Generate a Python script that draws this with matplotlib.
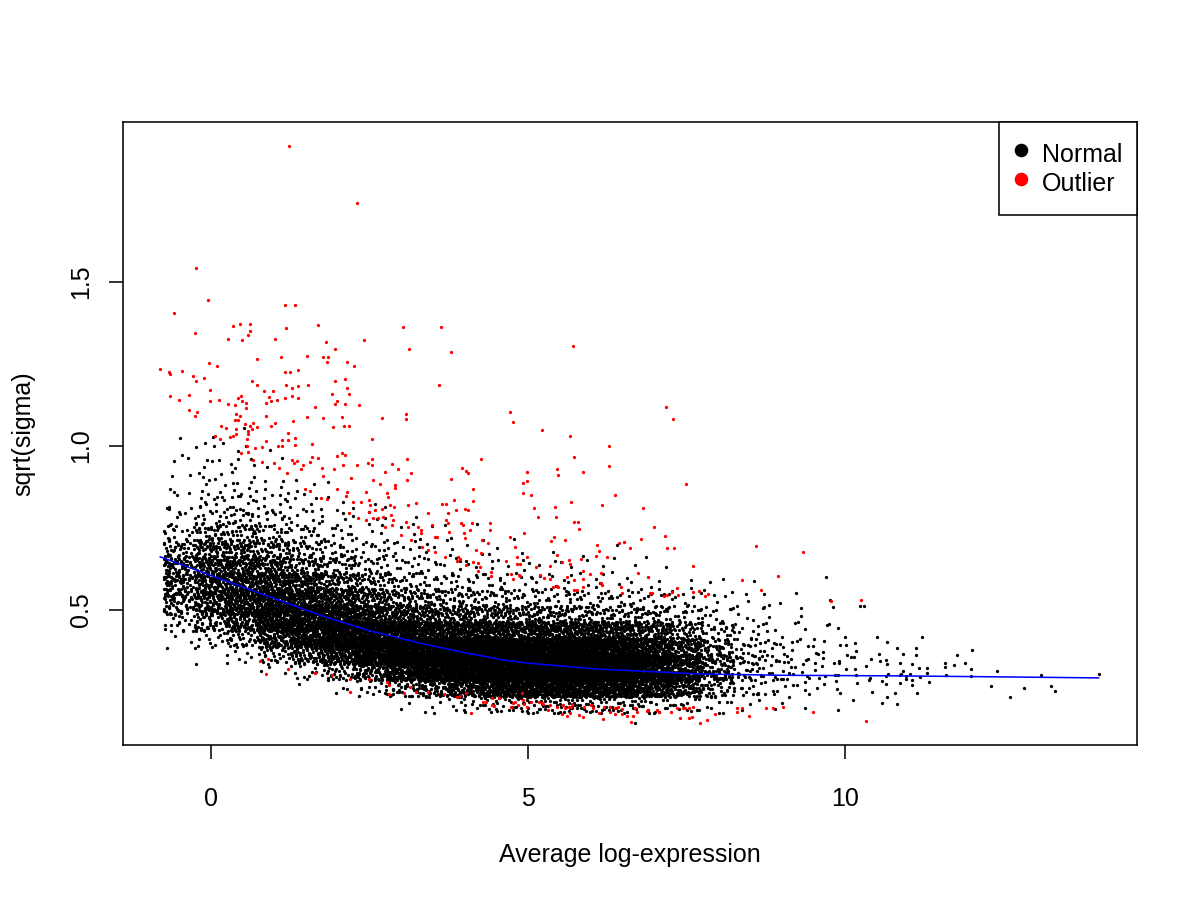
import numpy as np
import matplotlib
matplotlib.use('Agg')
import matplotlib.pyplot as plt
from matplotlib.lines import Line2D

plt.rcParams['font.family'] = ['Liberation Sans', 'DejaVu Sans']

# fitted trend (blue line)
trend_x = [-0.8, 0.2, 1.0, 1.8, 2.5, 3.3, 4.0, 4.6, 5.0, 6.1, 7.7, 9.0, 10.9, 12.5, 14.0]
trend_y = [0.662, 0.591, 0.535, 0.479, 0.437, 0.399, 0.370, 0.348, 0.338, 0.320,
           0.305, 0.301, 0.299, 0.296, 0.293]

# dense "Normal" cloud: estimated number of genes per (x, y) cell
col_edges = [-0.75, -0.5, 0.0, 0.5, 1.0, 1.5, 2.0, 2.5, 3.0, 3.5, 4.0, 4.5,
             5.0, 5.5, 6.0, 6.5, 7.0, 7.5, 8.0, 8.5, 9.0, 9.5, 10.0, 10.5]
row_edges = [0.15, 0.20, 0.25, 0.30, 0.35, 0.40, 0.45, 0.50, 0.55, 0.60,
             0.65, 0.70, 0.75, 0.80, 0.85, 0.90, 0.95, 1.00, 1.05, 1.10]
normal_counts = [
    [0, 0, 0, 0, 0, 1, 6, 14, 18, 16, 10, 4, 2, 1, 0, 0, 0, 0, 0],
    [0, 0, 0, 0, 2, 10, 40, 85, 100, 100, 75, 35, 14, 8, 5, 4, 3, 2, 0],
    [0, 0, 0, 0, 3, 25, 80, 130, 130, 110, 75, 45, 25, 16, 10, 7, 5, 3, 0],
    [0, 0, 0, 2, 15, 70, 150, 170, 140, 95, 55, 30, 16, 10, 6, 4, 2, 0, 0],
    [0, 0, 0, 8, 60, 170, 200, 160, 110, 65, 38, 22, 12, 7, 4, 2, 0, 0, 0],
    [0, 0, 2, 25, 130, 220, 200, 130, 80, 45, 26, 14, 8, 4, 2, 0, 0, 0, 0],
    [0, 0, 8, 70, 210, 240, 170, 100, 55, 30, 16, 9, 5, 2, 0, 0, 0, 0, 0],
    [0, 2, 30, 150, 270, 230, 130, 65, 35, 18, 10, 6, 3, 0, 0, 0, 0, 0, 0],
    [0, 5, 70, 240, 300, 210, 100, 45, 22, 12, 7, 4, 2, 0, 0, 0, 0, 0, 0],
    [0, 12, 130, 320, 320, 190, 85, 38, 18, 9, 5, 3, 0, 0, 0, 0, 0, 0, 0],
    [0, 24, 200, 370, 330, 180, 75, 32, 15, 7, 3, 2, 0, 0, 0, 0, 0, 0, 0],
    [0, 36, 250, 400, 330, 175, 62, 24, 10, 5, 3, 1, 0, 0, 0, 0, 0, 0, 0],
    [0, 44, 270, 410, 320, 165, 55, 22, 9, 4, 2, 0, 0, 0, 0, 0, 0, 0, 0],
    [1, 48, 270, 400, 300, 155, 50, 20, 8, 3, 1, 0, 0, 0, 0, 0, 0, 0, 0],
    [1, 44, 250, 360, 270, 140, 46, 18, 7, 3, 1, 0, 0, 0, 0, 0, 0, 0, 0],
    [0, 36, 210, 300, 220, 115, 40, 15, 6, 2, 0, 0, 0, 0, 0, 0, 0, 0, 0],
    [0, 26, 140, 190, 140, 70, 28, 11, 4, 1, 0, 0, 0, 0, 0, 0, 0, 0, 0],
    [0, 15, 70, 95, 70, 36, 16, 7, 3, 1, 0, 0, 0, 0, 0, 0, 0, 0, 0],
    [0, 7, 25, 32, 26, 14, 8, 4, 2, 0, 0, 0, 0, 0, 0, 0, 0, 0, 0],
    [0, 4, 14, 18, 14, 8, 5, 2, 1, 0, 0, 0, 0, 0, 0, 0, 0, 0, 0],
    [0, 2, 8, 10, 8, 5, 3, 1, 0, 0, 0, 0, 0, 0, 0, 0, 0, 0, 0],
    [0, 1, 6, 8, 6, 4, 2, 1, 1, 0, 0, 0, 0, 0, 0, 0, 0, 0, 0],
    [0, 1, 5, 7, 5, 3, 1, 1, 0, 0, 0, 0, 0, 0, 0, 0, 0, 0, 0],
]

# sparse high-expression "Normal" genes, read one by one
tail_x = [10.56, 10.59, 10.59, 10.64, 10.65, 10.66, 10.66, 10.79, 10.82, 10.82,
          10.86, 10.87, 10.87, 10.89, 10.92, 10.92, 10.96, 10.97, 11.03, 11.05,
          11.06, 11.06, 11.12, 11.12, 11.14, 11.16, 11.19, 11.22, 11.29, 11.29,
          11.32, 11.58, 11.58, 11.59, 11.72, 11.77, 11.90, 11.98, 11.99, 12.01,
          12.31, 12.39, 12.61, 12.83, 13.09, 13.25, 13.32, 14.01]
tail_y = [0.343, 0.285, 0.216, 0.298, 0.274, 0.235, 0.334, 0.248, 0.383, 0.212,
          0.277, 0.337, 0.301, 0.305, 0.367, 0.313, 0.289, 0.299, 0.306, 0.286,
          0.334, 0.270, 0.383, 0.362, 0.248, 0.323, 0.295, 0.417, 0.322, 0.307,
          0.280, 0.339, 0.326, 0.303, 0.332, 0.362, 0.337, 0.319, 0.298, 0.379,
          0.269, 0.313, 0.234, 0.261, 0.301, 0.268, 0.252, 0.305]

# "Outlier" genes (red)
outlier_x = [
    1.235, 2.31, -0.236, -0.04, -0.59, 1.17, 1.33, 0.34, 0.45, 0.62, -0.25, 0.62, 0.59, 0.27,
    0.49, 1.19, 1.01, 1.69, 1.82, 1.96, 2.42, 3.03, 3.63, 3.13, 3.79, 1.52, 1.77, 1.85, 1.83,
    2.15, 2.26, 1.11, 0.73, -0.03, 0.10, -0.80, -0.67, -0.64, -0.45, -0.29, -0.23, -0.11, 1.16,
    1.24, 1.38, 0.65, 0.72, 1.19, 1.27, 1.38, 1.53, 1.96, 2.11, 2.15, 2.17, 1.91, 1.98, 1.96,
    2.11, 2.33, 3.59, -0.01, -0.64, -0.34, -0.50, -0.01, 0.12, 0.27, 0.38, 0.43, 0.47, 0.55,
    0.55, 0.49, 0.84, 0.98, 0.91, 0.94, 0.86, 1.04, 1.17, 1.28, 1.37, 1.64, -0.34, -0.22, -0.25,
    0.39, 0.45, 0.38, 0.43, 0.86, 1.52, 1.77, 2.06, 2.70, 3.08, 3.08, 4.72, 4.77, 0.15, 0.24,
    0.40, 0.54, 0.62, 0.67, 0.72, 0.65, 0.58, 0.40, 0.58, 0.95, 1.01, 1.30, 1.22, 1.33, 2.09,
    2.17, 1.92, 2.54, 0.07, 0.14, 0.30, 0.34, 0.57, 0.87, 1.12, 1.22,
    0.57, 0.58, 0.48, 0.69, 0.81, 1.06, 1.12, 1.32, 1.59, 0.66, 0.81, 1.00, 1.08, 1.20, 1.27,
    1.31, 1.35, 1.42, 1.45, 1.56, 1.60, 1.69, 1.77, 1.75, 1.94, 1.99, 2.06, 2.12, 2.08, 2.21,
    2.31, 2.48, 2.54, 2.54, 2.56, 2.66, 2.86, 2.95, 3.09, 3.15, 3.09, 2.74, 2.91, 2.90, 2.77,
    2.79, 2.45, 2.37, 2.50, 2.51, 2.58, 2.49, 2.70, 2.82, 2.88, 3.10, 3.24, 2.24, 2.13, 2.15,
    1.98, 1.49, 1.56, 1.74, 1.83, 2.18, 2.32, 2.45, 2.56, 2.63, 2.71, 2.84, 2.87, 2.74, 2.86,
    3.08, 3.11, 2.99, 3.16, 3.26, 3.32, 3.32, 3.42, 3.49, 3.53, 3.57, 3.33, 3.42, 3.54, 3.69,
    3.65, 3.70, 3.74, 3.84, 3.86, 3.70, 3.74, 3.75, 3.79, 3.96, 4.03, 4.06, 4.14, 4.13, 4.01,
    4.05, 3.94, 3.97, 4.12, 3.99, 4.00, 4.08, 4.26, 4.40, 4.40, 4.27, 4.37, 4.18, 4.26, 3.90,
    3.92, 3.88, 4.03, 4.13, 4.21, 4.24, 4.21, 4.42, 4.41, 4.66, 4.71, 4.73, 4.77, 4.82, 4.87,
    4.88, 4.79, 4.92, 4.92,
    0.78, 0.90, 0.86, 1.21, 1.64, 1.91, 2.19, 2.49, 2.78, 2.80, 2.81, 2.19, 3.04, 3.14, 3.24,
    3.42, 3.68, 3.88, 3.92, 4.03, 4.10, 4.29, 4.33, 4.44, 4.47, 4.44, 4.55, 4.73, 4.76, 4.84,
    4.92, 4.91,
    5.22, 5.66, 6.28, 6.27, 5.73, 4.99, 4.99, 5.46, 5.47, 5.87, 5.04, 7.49, 6.37, 5.68, 5.10,
    5.15, 5.43, 5.44, 6.16, 6.82, 5.73, 5.79, 5.81, 6.98, 4.93, 7.16, 5.41, 5.37, 5.59, 6.09,
    6.12, 6.44, 6.52, 6.61, 6.79, 7.20, 7.31, 8.59, 9.33, 4.82, 4.98, 5.13, 5.35, 5.45, 5.54,
    5.64, 5.66, 5.84, 6.08, 6.24, 4.86, 5.19, 5.26, 5.35, 5.39, 5.46, 5.48, 5.61, 5.72, 5.72,
    5.78, 5.86, 5.87, 5.87, 5.98, 6.15, 6.15, 6.17, 6.74, 6.89, 6.47, 6.49, 6.95, 6.92, 7.15,
    7.19, 7.27, 7.35, 7.36, 7.60, 7.61, 7.70, 7.79, 7.84, 8.38, 8.68, 8.95, 9.78, 10.26, 5.71,
    7.18, 7.28,
    4.79, 4.98, 4.93, 5.04, 5.17, 5.22, 5.24, 5.32, 5.34, 5.45, 5.53, 5.61, 5.56, 5.59, 5.64,
    5.70, 5.68, 5.67, 5.80, 5.87, 5.89, 5.99, 6.02, 6.12, 6.19, 6.20, 6.29, 6.37, 6.42, 6.49,
    6.29, 6.37, 6.48, 6.56, 6.62, 6.66, 6.69, 6.72, 6.87, 6.90, 7.03, 7.06, 7.26, 7.35, 7.44,
    7.48, 7.54, 7.60, 7.40, 7.54, 7.59, 7.71, 7.83, 7.95, 8.29, 8.30, 8.37, 8.49, 8.75, 8.86,
    9.03, 9.50, 10.33,
]
outlier_y = [
    1.915, 1.742, 1.542, 1.444, 1.405, 1.429, 1.429, 1.367, 1.372, 1.371, 1.345, 1.351, 1.337,
    1.325, 1.322, 1.359, 1.325, 1.368, 1.316, 1.295, 1.322, 1.363, 1.364, 1.295, 1.288, 1.273,
    1.270, 1.272, 1.257, 1.255, 1.243, 1.272, 1.264, 1.253, 1.243, 1.234, 1.225, 1.219, 1.228,
    1.213, 1.198, 1.206, 1.227, 1.227, 1.231, 1.197, 1.185, 1.185, 1.178, 1.183, 1.187, 1.198,
    1.205, 1.178, 1.158, 1.158, 1.136, 1.127, 1.128, 1.124, 1.185, 1.170, 1.152, 1.154, 1.139,
    1.137, 1.139, 1.127, 1.125, 1.145, 1.152, 1.130, 1.115, 1.136, 1.167, 1.167, 1.148, 1.136,
    1.130, 1.139, 1.145, 1.152, 1.145, 1.120, 1.111, 1.105, 1.091, 1.097, 1.091, 1.078, 1.078,
    1.091, 1.088, 1.085, 1.088, 1.086, 1.099, 1.082, 1.105, 1.073, 1.062, 1.055, 1.051, 1.067,
    1.060, 1.071, 1.057, 1.053, 1.045, 1.036, 1.036, 1.062, 1.071, 1.075, 1.041, 1.024, 1.062,
    1.062, 1.057, 1.020, 1.029, 1.020, 1.027, 1.030, 1.020, 1.014, 1.018, 1.018,
    1.001, 0.982, 0.978, 0.993, 0.998, 1.000, 1.000, 1.003, 1.005, 0.957, 0.952, 0.949, 0.932,
    0.919, 0.957, 0.947, 0.955, 0.929, 0.942, 0.952, 0.967, 0.962, 0.909, 0.932, 0.929, 0.970,
    0.978, 0.973, 0.942, 0.903, 0.942, 0.947, 0.959, 0.942, 0.896, 0.884, 0.945, 0.929, 0.959,
    0.917, 0.896, 0.920, 0.881, 0.871, 0.856, 0.846, 0.861, 0.830, 0.835, 0.820, 0.805, 0.800,
    0.808, 0.820, 0.815, 0.820, 0.825, 0.830, 0.848, 0.861, 0.868, 0.868, 0.863, 0.840, 0.837,
    0.797, 0.780, 0.774, 0.780, 0.780, 0.783, 0.790, 0.774, 0.754, 0.759, 0.769, 0.754, 0.729,
    0.713, 0.754, 0.744, 0.734, 0.797, 0.759, 0.724, 0.724, 0.693, 0.683, 0.678, 0.663, 0.823,
    0.823, 0.797, 0.835, 0.805, 0.774, 0.764, 0.739, 0.898, 0.932, 0.925, 0.919, 0.870, 0.832,
    0.808, 0.805, 0.764, 0.759, 0.764, 0.734, 0.721, 0.744, 0.959, 0.766, 0.744, 0.713, 0.703,
    0.683, 0.675, 0.663, 0.655, 0.650, 0.637, 0.647, 0.644, 0.632, 0.620, 0.617, 0.604, 0.649,
    0.724, 0.610, 0.595, 0.640, 0.640, 0.605, 0.693, 0.856, 0.888,
    0.345, 0.350, 0.305, 0.321, 0.307, 0.301, 0.289, 0.291, 0.280, 0.271, 0.243, 0.250, 0.248,
    0.264, 0.251, 0.251, 0.244, 0.234, 0.239, 0.246, 0.185, 0.220, 0.220, 0.210, 0.207, 0.231,
    0.231, 0.205, 0.217, 0.210, 0.226, 0.246,
    1.049, 1.030, 1.000, 0.939, 0.967, 0.922, 0.893, 0.929, 0.912, 0.922, 0.852, 0.884, 0.852,
    0.829, 0.810, 0.783, 0.815, 0.784, 0.819, 0.812, 0.767, 0.767, 0.746, 0.752, 0.736, 0.727,
    0.722, 0.709, 0.714, 0.697, 0.681, 0.703, 0.706, 0.688, 0.716, 0.690, 0.689, 0.694, 0.676,
    0.663, 0.661, 0.630, 0.635, 0.667, 0.647, 0.652, 0.639, 0.655, 0.664, 0.662, 0.606, 0.606,
    0.598, 0.593, 0.571, 0.574, 0.569, 0.601, 0.591, 0.561, 0.561, 0.618, 0.595, 0.571, 0.609,
    0.612, 0.581, 0.575, 0.612, 0.602, 0.569, 0.551, 0.551, 0.551, 0.544, 0.546, 0.554, 0.566,
    0.545, 0.633, 0.554, 0.557, 0.544, 0.548, 0.591, 0.560, 0.603, 0.528, 0.530, 1.304, 1.118,
    1.082,
    0.219, 0.203, 0.213, 0.220, 0.220, 0.216, 0.213, 0.195, 0.210, 0.205, 0.183, 0.177, 0.210,
    0.200, 0.205, 0.213, 0.203, 0.185, 0.180, 0.175, 0.205, 0.210, 0.200, 0.187, 0.167, 0.205,
    0.203, 0.200, 0.203, 0.197, 0.190, 0.182, 0.182, 0.178, 0.160, 0.178, 0.200, 0.190, 0.193,
    0.195, 0.195, 0.190, 0.190, 0.200, 0.200, 0.200, 0.200, 0.205, 0.170, 0.170, 0.175, 0.155,
    0.165, 0.183, 0.200, 0.190, 0.200, 0.178, 0.200, 0.200, 0.203, 0.189, 0.162,
]


def radical_inverse(k, base):
    k = np.asarray(k, dtype=np.int64).copy()
    out = np.zeros(k.shape)
    f = 1.0 / base
    while np.any(k > 0):
        out += f * (k % base)
        k //= base
        f /= base
    return out


def spread_cells(x_edges, y_edges, counts, widen_x=2.0, widen_y=1.6):
    # lay each cell's genes out evenly (Halton 2/3 sequence), a bit wider
    # than the cell itself so neighbouring cells blend into each other
    xs, ys = [], []
    for i, row in enumerate(counts):
        x0, x1 = x_edges[i], x_edges[i + 1]
        for j, n in enumerate(row):
            if n == 0:
                continue
            y0, y1 = y_edges[j], y_edges[j + 1]
            k = np.arange(1, n + 1) + 577 * i + 7919 * j
            u = radical_inverse(k, 2) - 0.5
            v = radical_inverse(k, 3) - 0.5
            xs.append((x0 + x1) / 2 + u * (x1 - x0) * widen_x)
            ys.append((y0 + y1) / 2 + v * (y1 - y0) * widen_y)
    xs = np.concatenate(xs)
    lo = x_edges[0]
    xs = np.where(xs < lo, 2 * lo - xs, xs)
    return xs, np.concatenate(ys)


cloud_x, cloud_y = spread_cells(col_edges, row_edges, normal_counts)
normal_x = np.concatenate([cloud_x, tail_x])
normal_y = np.concatenate([cloud_y, tail_y])

fig = plt.figure(figsize=(8, 6), dpi=150)
ax = fig.add_axes([0.1025, 0.17222, 0.845, 0.69222])

ax.scatter(normal_x, normal_y, s=2.5, c='black', marker='o', linewidths=0)
ax.scatter(outlier_x, outlier_y, s=2.5, c='red', marker='o', linewidths=0)
ax.plot(trend_x, trend_y, color='blue', linewidth=0.75)

ax.set_xlim(-1.388, 14.606)
ax.set_ylim(0.0884, 1.9878)
ax.set_xticks([0, 5, 10])
ax.set_xticklabels(['0', '5', '10'])
ax.set_yticks([0.5, 1.0, 1.5])
ax.set_yticklabels(['0.5', '1.0', '1.5'], rotation=90, va='center')

for sp in ax.spines.values():
    sp.set_linewidth(0.75)
    sp.set_color('black')
ax.tick_params(axis='both', length=6.7, width=0.75, labelsize=12, direction='out')
ax.tick_params(axis='x', pad=13.5)
ax.tick_params(axis='y', pad=7.5)

ax.set_xlabel('Average log-expression', fontsize=12, va='center')
ax.xaxis.set_label_coords(0.5, -(855 - 745) / 623)
ax.set_ylabel('sqrt(sigma)', fontsize=12, ha='center', va='center')
ax.yaxis.set_label_coords(-(123 - 23) / 1014, 0.5)

handles = [
    Line2D([], [], marker='o', color='black', linestyle='None', markersize=5.5),
    Line2D([], [], marker='o', color='red', linestyle='None', markersize=5.5),
]
leg = ax.legend(handles, ['Normal', 'Outlier'], loc='upper right', borderaxespad=0,
                fontsize=12, fancybox=False, framealpha=1, edgecolor='black',
                handlelength=0.5, handletextpad=0.59, borderpad=0.6,
                handleheight=1.7, labelspacing=-0.19)
leg.get_frame().set_linewidth(0.75)

fig.savefig('out.png', dpi=150)
